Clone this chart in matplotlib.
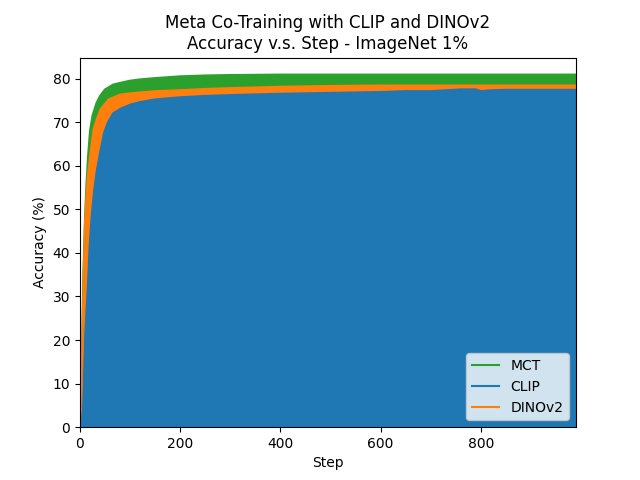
import matplotlib
matplotlib.use("Agg")
import matplotlib.pyplot as plt

mct_steps = [0, 3, 5, 7, 10, 13, 16, 20, 25, 33, 40, 50, 66, 80, 100, 120,
             150, 200, 250, 300, 400, 500, 600, 700, 800, 900, 990]
mct_acc = [2, 12, 24, 36, 48, 56, 62, 68, 71.5, 74.4, 76, 77.5, 78.6, 79, 79.5, 79.8,
           80.1, 80.5, 80.7, 80.8, 80.9, 80.9, 80.9, 80.9, 80.9, 80.9, 80.9]

dino_steps = [0, 3, 5, 7, 10, 13, 16, 20, 27, 33, 41, 57, 80, 100, 150, 200, 250,
              300, 400, 500, 600, 700, 800, 900, 990]
dino_acc = [1, 10, 22, 33, 47, 53, 58, 62, 68.3, 70.5, 72.9, 75.2, 76.3, 76.6, 77.1, 77.3, 77.6,
            77.8, 78.1, 78.3, 78.4, 78.4, 78.4, 78.4, 78.4]

clip_steps = [0, 3, 6, 8, 10, 13, 16, 19, 23, 28, 33, 41, 48, 56, 66, 80, 100, 120, 150,
              200, 250, 300, 400, 500, 600, 650, 700, 760, 790, 800, 820, 850, 990]
clip_acc = [1, 2.5, 3.5, 12, 20, 27, 33, 41, 48, 54, 58.5, 63.5, 67.5, 70, 72, 73, 74, 74.6, 75.2,
            75.7, 76.0, 76.2, 76.5, 76.7, 76.9, 77.1, 77.1, 77.5, 77.5, 77.1, 77.3, 77.4, 77.4]

plt.figure(figsize=(6.4, 4.8), dpi=100)

# lines for the legend, fills underneath each
plt.plot(mct_steps, mct_acc, color='tab:green', label='MCT')
plt.plot(clip_steps, clip_acc, color='tab:blue', label='CLIP')
plt.plot(dino_steps, dino_acc, color='tab:orange', label='DINOv2')

plt.fill_between(mct_steps, mct_acc, color='tab:green')
plt.fill_between(dino_steps, dino_acc, color='tab:orange')
plt.fill_between(clip_steps, clip_acc, color='tab:blue')

plt.xlim(0, 990)
plt.ylim(0, 84.8)
plt.xlabel('Step')
plt.ylabel('Accuracy (%)')
plt.title('Meta Co-Training with CLIP and DINOv2\nAccuracy v.s. Step - ImageNet 1%')
plt.legend(loc='lower right')

plt.savefig('out.png')
